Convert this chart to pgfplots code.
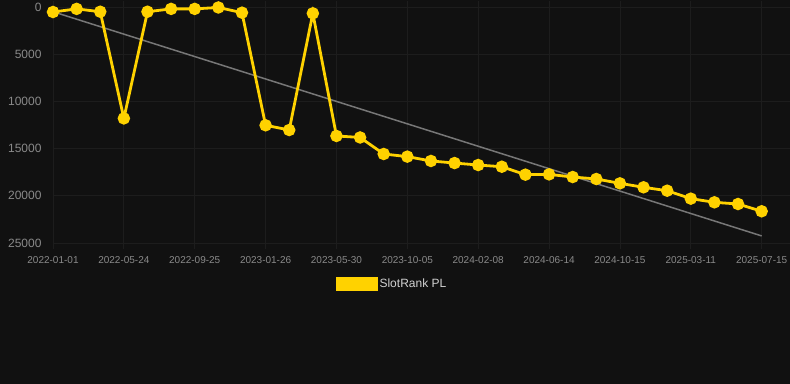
\documentclass[border=0pt]{standalone}
\usepackage{pgfplots}
\pgfplotsset{compat=1.18}
\usepackage{fontspec}
\setmainfont{Liberation Sans}
\definecolor{bg}{HTML}{111111}
\definecolor{gridc}{HTML}{1D1D1D}
\definecolor{tickc}{HTML}{8A8A8A}
\definecolor{gold}{HTML}{FFD200}
\definecolor{trend}{HTML}{777777}
\begin{document}
\begin{tikzpicture}
\fill[bg] (0,0) rectangle (790bp,384bp);
\useasboundingbox (0,0) rectangle (790bp,384bp);
\begin{axis}[
  at={(53bp,141bp)}, anchor=south west,
  scale only axis, width=737bp, height=236bp,
  xmin=0, xmax=31.2, ymin=0, ymax=25000,
  y dir=reverse,
  axis line style={draw=none},
  grid=major, grid style={gridc, line width=0.8bp},
  xtick={0,3,...,30},
  xticklabels={2022-01-01,2022-05-24,2022-09-25,2023-01-26,2023-05-30,2023-10-05,2024-02-08,2024-06-14,2024-10-15,2025-03-11,2025-07-15},
  ytick={0,5000,10000,15000,20000,25000},
  scaled y ticks=false,
  /pgf/number format/assume math mode=true,
  /pgf/number format/set thousands separator={},
  x tick label style={font=\fontsize{10bp}{12bp}\selectfont, text=tickc, yshift=-4bp},
  y tick label style={font=\fontsize{12bp}{14bp}\selectfont, text=tickc, xshift=-2bp},
  xtick style={draw=gridc, line width=0.8bp},
  ytick style={draw=none},
  tick align=outside, major tick length=6bp,
  legend style={at={(axis description cs:0.46,-0.174)}, anchor=center, draw=none, fill=none, text=white!82!black, font=\fontsize{12bp}{14bp}\selectfont, /tikz/every even column/.append style={column sep=4bp}},
  legend cell align=left,
]
\addplot[trend, line width=1.5bp, forget plot] coordinates {(0,500) (30,24250)};
\addplot[gold, line width=2.8bp, mark=*, mark size=4.8bp, mark options={solid, fill=gold, draw=none},
  legend image code/.code={\fill[gold] (0bp,-5.5bp) rectangle (39bp,5.5bp);}]
coordinates {
(0,530) (1,200) (2,500) (3,11800) (4,500) (5,200) (6,200) (7,50) (8,600) (9,12530)
(10,13030) (11,670) (12,13660) (13,13820) (14,15570) (15,15850) (16,16310) (17,16530) (18,16740) (19,16920)
(20,17760) (21,17730) (22,18010) (23,18220) (24,18680) (25,19100) (26,19460) (27,20300) (28,20690) (29,20870)
(30,21640)
};
\addlegendentry{SlotRank PL}
\end{axis}
\end{tikzpicture}
\end{document}
